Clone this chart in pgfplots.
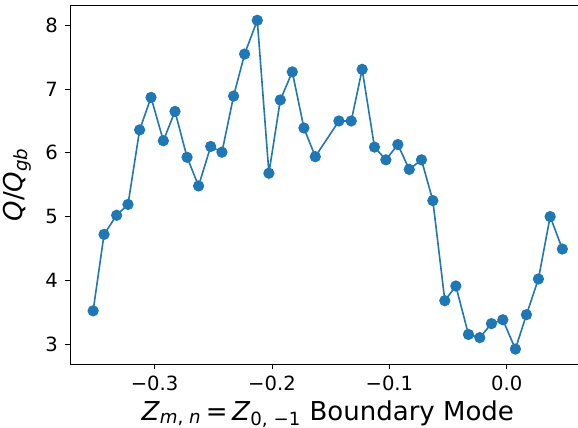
\documentclass[border=0pt]{standalone}
\usepackage{fontspec}
\setmainfont{DejaVu Sans}
\usepackage{pgfplots}
\pgfplotsset{compat=1.18}
\definecolor{mplblue}{HTML}{1F77B4}

\begin{document}
\begin{tikzpicture}
\begin{axis}[
  name=ax,
  scale only axis,
  width=257.75pt,
  height=179.5pt,
  xmin=-0.372, xmax=0.067,
  ymin=2.686, ymax=8.32,
  xtick={-0.3,-0.2,-0.1,0},
  xticklabels={−0.3,−0.2,−0.1,0.0},
  ytick={3,4,5,6,7,8},
  /pgf/number format/assume math mode=true,
  tick align=outside,
  tick pos=left,
  major tick length=2.5pt,
  tick style={black, line width=0.4pt},
  axis line style={line width=0.4pt},
  ticklabel style={font=\fontsize{9.8}{11}\selectfont},
  label style={font=\fontsize{13}{15}\selectfont},
  xlabel={\textit{Z}\textsubscript{\textit{m}, \textit{n}}\,=\,\textit{Z}\textsubscript{0, −1} Boundary Mode},
  ylabel={\textit{Q}/\textit{Q}\textsubscript{\textit{gb}}},
  xlabel style={yshift=2pt},
]
\addplot[mplblue, line width=0.8pt, mark=*, mark size=2.4pt, mark options={fill=mplblue, draw=mplblue}] coordinates {
(-0.3523,3.52) (-0.3430,4.72) (-0.3323,5.02) (-0.3226,5.19) (-0.3127,6.36)
(-0.3030,6.87) (-0.2925,6.19) (-0.2826,6.65) (-0.2723,5.93) (-0.2625,5.48)
(-0.2522,6.10) (-0.2426,6.01) (-0.2327,6.89) (-0.2233,7.55) (-0.2125,8.08)
(-0.2026,5.68) (-0.1929,6.83) (-0.1827,7.27) (-0.1728,6.39) (-0.1631,5.94)
(-0.1430,6.50) (-0.1325,6.50) (-0.1232,7.31) (-0.1127,6.09) (-0.1030,5.89)
(-0.0928,6.13) (-0.0831,5.74) (-0.0727,5.89) (-0.0630,5.25) (-0.0528,3.68)
(-0.0434,3.91) (-0.0327,3.15) (-0.0230,3.10) (-0.0131,3.32) (-0.0034,3.38)
(0.0073,2.92) (0.0167,3.46) (0.0269,4.02) (0.0369,5.00) (0.0473,4.49)
};
\end{axis}
\pgfresetboundingbox
\useasboundingbox ([shift={(-35pt,-32pt)}]ax.south west) rectangle ([shift={(-3.75pt,2.5pt)}]ax.north east);
\end{tikzpicture}
\end{document}
